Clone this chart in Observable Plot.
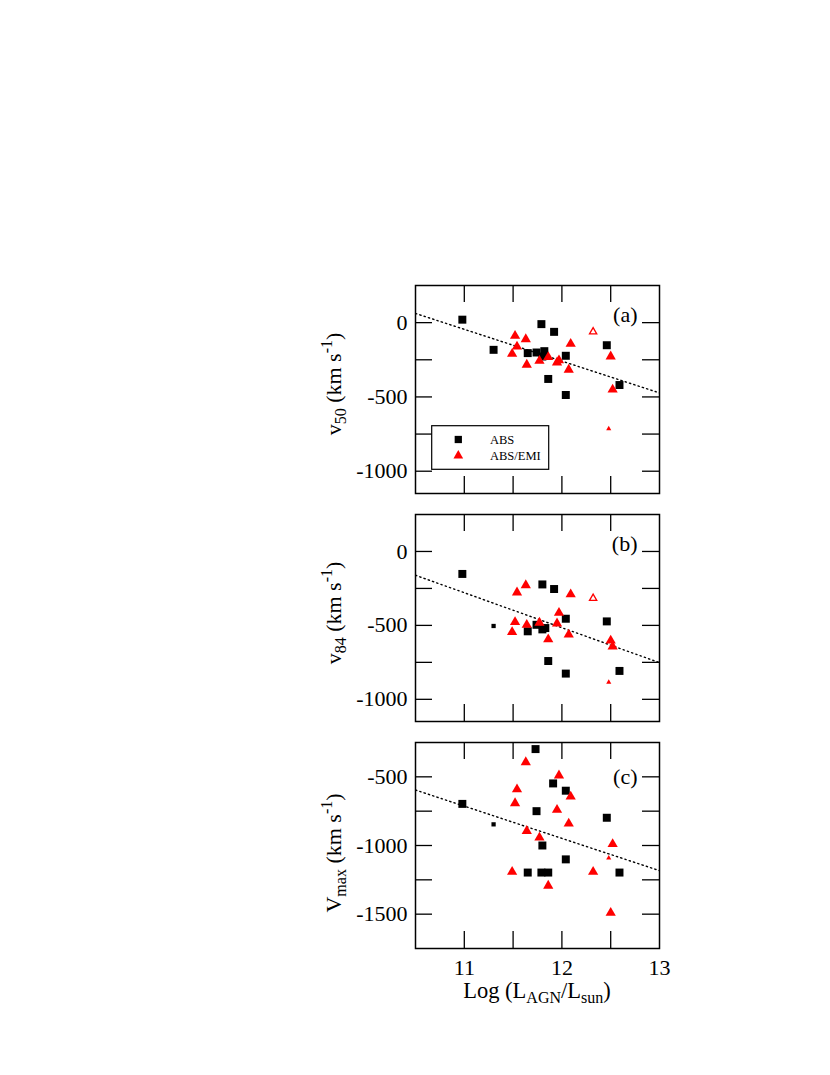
<!DOCTYPE html>
<html><head><meta charset="utf-8">
<script src="https://cdn.jsdelivr.net/npm/d3@7"></script>
<script src="https://cdn.jsdelivr.net/npm/@observablehq/plot@0.6"></script>
<style>
body{margin:0;background:#fff;}
#wrap{position:relative;width:830px;height:1075px;}
.panel{position:absolute;left:310px;}
</style></head><body><div id="wrap"></div>
<script>
// ---------- shared axis ----------
const xDomain = [10.5, 13];
const xMinorTicks = [11, 11.5, 12, 12.5];
const xTickLabels = [11, 12, 13];

// ---------- panel (a): v50 ----------
const a_yDomain = [-1150, 250];
const a_yTicks = [0, -250, -500, -750, -1000];
const a_yTickLabels = [0, -500, -1000];
const a_absL = [10.98, 11.30, 11.79, 11.92, 11.65, 11.74, 11.82, 11.80, 12.04, 11.86, 12.04, 12.46, 12.59];
const a_absV = [20, -183, -10, -62, -205, -201, -192, -228, -223, -379, -487, -152, -420];
const a_absSmallL = [];
const a_absSmallV = [];
const a_emiL = [11.52, 11.63, 11.54, 11.49, 11.64, 11.77, 11.86, 11.95, 11.97, 12.09, 12.07, 12.50, 12.52];
const a_emiV = [-89, -112, -161, -210, -283, -257, -232, -268, -254, -143, -317, -228, -451];
const a_emiSmallL = [12.48];
const a_emiSmallV = [-714];
const a_emiOpenL = [12.32];
const a_emiOpenV = [-62];
const a_fitL = [10.5, 13];
const a_fitV = [62, -473];

// ---------- panel (b): v84 ----------
const b_yDomain = [-1150, 250];
const b_yTicks = [0, -250, -500, -750, -1000];
const b_yTickLabels = [0, -500, -1000];
const b_absL = [10.98, 11.80, 11.92, 12.04, 11.74, 11.65, 11.80, 11.83, 11.86, 12.04, 12.46, 12.59];
const b_absV = [-152, -223, -254, -455, -496, -540, -527, -518, -741, -826, -473, -808];
const b_absSmallL = [11.30];
const b_absSmallV = [-504];
const b_emiL = [11.63, 11.54, 12.09, 11.97, 11.52, 11.64, 11.77, 11.95, 11.49, 11.86, 12.07, 12.50, 12.52];
const b_emiV = [-228, -277, -290, -415, -478, -496, -482, -487, -545, -594, -562, -603, -643];
const b_emiSmallL = [12.48];
const b_emiSmallV = [-884];
const b_emiOpenL = [12.32];
const b_emiOpenV = [-317];
const b_fitL = [10.5, 13];
const b_fitV = [-161, -752];

// ---------- panel (c): Vmax ----------
const c_yDomain = [-1750, -250];
const c_yTicks = [-500, -750, -1000, -1250, -1500];
const c_yTickLabels = [-500, -1000, -1500];
const c_absL = [11.73, 11.91, 12.04, 10.98, 11.74, 11.80, 12.04, 12.46, 11.65, 11.79, 11.86, 12.59];
const c_absV = [-298, -548, -601, -697, -750, -1000, -1101, -798, -1197, -1197, -1197, -1197];
const c_absSmallL = [11.30];
const c_absSmallV = [-846];
const c_emiL = [11.63, 11.97, 11.54, 12.09, 11.52, 11.95, 12.07, 11.64, 11.77, 12.52, 11.49, 12.32, 11.86, 12.50];
const c_emiV = [-394, -490, -591, -644, -692, -740, -841, -894, -942, -990, -1192, -1192, -1293, -1490];
const c_emiSmallL = [12.48];
const c_emiSmallV = [-1091];
const c_emiOpenL = [];
const c_emiOpenV = [];
const c_fitL = [10.5, 13];
const c_fitV = [-596, -1183];

const legendLabels = ["ABS", "ABS/EMI"];
const RED = "#ff0000";
const FONT = "'Liberation Serif','Times New Roman',Times,serif";

const W = 369, ML = 105, MR = 20, MT = 5;
const FW = W - ML - MR;
const TICK = 17;
const fmt = d => String(d);

function panel(p) {
  const fh = p.frameH;
  const H = MT + fh + p.mb;
  const marks = [
    Plot.line(p.fitL, {x: p.fitL, y: p.fitV, stroke: "black", strokeWidth: 1.4, strokeDasharray: "1.3,3.2", clip: true}),
    Plot.tickY(p.yTicks, {y: d => d, insetRight: FW - TICK, stroke: "black", strokeWidth: 1.3}),
    Plot.tickY(p.yTicks, {y: d => d, insetLeft: FW - TICK, stroke: "black", strokeWidth: 1.3}),
    Plot.tickX(xMinorTicks, {x: d => d, insetTop: fh - TICK, stroke: "black", strokeWidth: 1.3}),
    Plot.tickX(xMinorTicks, {x: d => d, insetBottom: fh - TICK, stroke: "black", strokeWidth: 1.3}),
    Plot.axisY(p.yTickLabels, {tickSize: 0, tickPadding: 8, label: null, fontSize: 22, tickFormat: fmt}),
    Plot.dot(p.absL, {x: p.absL, y: p.absV, symbol: "square", r: 4.5, fill: "black"}),
    Plot.dot(p.absSmallL, {x: p.absSmallL, y: p.absSmallV, symbol: "square", r: 2.4, fill: "black"}),
    Plot.dot(p.emiL, {x: p.emiL, y: p.emiV, symbol: "triangle", r: 3.8, fill: RED}),
    Plot.dot(p.emiSmallL, {x: p.emiSmallL, y: p.emiSmallV, symbol: "triangle", r: 1.9, fill: RED}),
    Plot.dot(p.emiOpenL, {x: p.emiOpenL, y: p.emiOpenV, symbol: "triangle", r: 2.7, fill: "white", stroke: RED, strokeWidth: 1.3}),
    Plot.text([p.tag], {text: d => d, frameAnchor: "top-right", textAnchor: "end", lineAnchor: "bottom", dx: -22, dy: p.tagDy, fontSize: 22}),
    Plot.frame({stroke: "black", strokeWidth: 1.5})
  ];
  if (p.xLabels) {
    marks.push(Plot.axisX(xTickLabels, {tickSize: 0, tickPadding: 11, label: null, fontSize: 22, tickFormat: fmt}));
  }
  const svg = Plot.plot({
    width: W, height: H,
    marginLeft: ML, marginRight: MR, marginTop: MT, marginBottom: p.mb,
    x: {domain: xDomain, axis: null},
    y: {domain: p.yDomain, axis: null},
    style: {fontFamily: FONT, fontSize: "22px", color: "black", background: "transparent", overflow: "visible"},
    marks
  });
  svg.classList.add("panel");
  svg.style.top = p.top + "px";
  svg.style.position = "absolute";
  svg.style.left = "310px";
  // rotated y-axis title with sub/superscripts
  const s = d3.select(svg);
  const t = s.append("text")
    .attr("transform", `translate(31,${p.labelCy}) rotate(-90)`)
    .attr("text-anchor", "middle")
    .attr("font-family", FONT).attr("font-size", 22).attr("fill", "black");
  t.append("tspan").text(p.labelMain);
  t.append("tspan").attr("font-size", 16).attr("dy", 5).text(p.labelSub);
  t.append("tspan").attr("dy", -5).text(" (km s");
  t.append("tspan").attr("font-size", 16).attr("dy", -9).text("-1");
  t.append("tspan").attr("dy", 9).text(")");
  return svg;
}

const wrap = document.getElementById("wrap");

const svgA = panel({top: 280, frameH: 208, mb: 5, yDomain: a_yDomain, yTicks: a_yTicks, yTickLabels: a_yTickLabels,
  absL: a_absL, absV: a_absV, absSmallL: a_absSmallL, absSmallV: a_absSmallV,
  emiL: a_emiL, emiV: a_emiV, emiSmallL: a_emiSmallL, emiSmallV: a_emiSmallV, emiOpenL: a_emiOpenL, emiOpenV: a_emiOpenV,
  fitL: a_fitL, fitV: a_fitV, tag: "(a)", tagDy: 36, labelCy: 104, labelMain: "v", labelSub: "50"});
wrap.appendChild(svgA);

const svgB = panel({top: 509, frameH: 207, mb: 5, yDomain: b_yDomain, yTicks: b_yTicks, yTickLabels: b_yTickLabels,
  absL: b_absL, absV: b_absV, absSmallL: b_absSmallL, absSmallV: b_absSmallV,
  emiL: b_emiL, emiV: b_emiV, emiSmallL: b_emiSmallL, emiSmallV: b_emiSmallV, emiOpenL: b_emiOpenL, emiOpenV: b_emiOpenV,
  fitL: b_fitL, fitV: b_fitV, tag: "(b)", tagDy: 36, labelCy: 104, labelMain: "v", labelSub: "84"});
wrap.appendChild(svgB);

const svgC = panel({top: 737, frameH: 206, mb: 70, yDomain: c_yDomain, yTicks: c_yTicks, yTickLabels: c_yTickLabels,
  absL: c_absL, absV: c_absV, absSmallL: c_absSmallL, absSmallV: c_absSmallV,
  emiL: c_emiL, emiV: c_emiV, emiSmallL: c_emiSmallL, emiSmallV: c_emiSmallV, emiOpenL: c_emiOpenL, emiOpenV: c_emiOpenV,
  fitL: c_fitL, fitV: c_fitV, tag: "(c)", tagDy: 41, labelCy: 116, labelMain: "V", labelSub: "max", xLabels: true});
wrap.appendChild(svgC);

// x-axis title (panel c)
{
  const s = d3.select(svgC);
  const t = s.append("text")
    .attr("x", ML + FW / 2).attr("y", 261)
    .attr("text-anchor", "middle")
    .attr("font-family", FONT).attr("font-size", 22.5).attr("fill", "black");
  t.append("tspan").text("Log (L");
  t.append("tspan").attr("font-size", 16).attr("dy", 5).text("AGN");
  t.append("tspan").attr("dy", -5).text("/L");
  t.append("tspan").attr("font-size", 16).attr("dy", 5).text("sun");
  t.append("tspan").attr("dy", -5).text(")");
}

// legend inside panel (a)
{
  const s = d3.select(svgA);
  const g = s.append("g").attr("font-family", FONT).attr("font-size", 12.5).attr("text-anchor", "start");
  g.append("rect").attr("x", 121.7).attr("y", 145.7).attr("width", 117).attr("height", 43.6)
    .attr("fill", "white").attr("stroke", "black").attr("stroke-width", 1.2);
  const sq = d3.symbol(d3.symbolSquare, Math.PI * 4.1 * 4.1);
  const tr = d3.symbol(d3.symbolTriangle, Math.PI * 3.6 * 3.6);
  g.append("path").attr("d", sq()).attr("transform", "translate(148.3,159.5)").attr("fill", "black");
  g.append("path").attr("d", tr()).attr("transform", "translate(148.3,175.7)").attr("fill", RED);
  g.append("text").attr("x", 180).attr("y", 164).attr("text-anchor", "start").text(legendLabels[0]);
  g.append("text").attr("x", 180).attr("y", 180).attr("text-anchor", "start").text(legendLabels[1]);
}
</script>
</body></html>
